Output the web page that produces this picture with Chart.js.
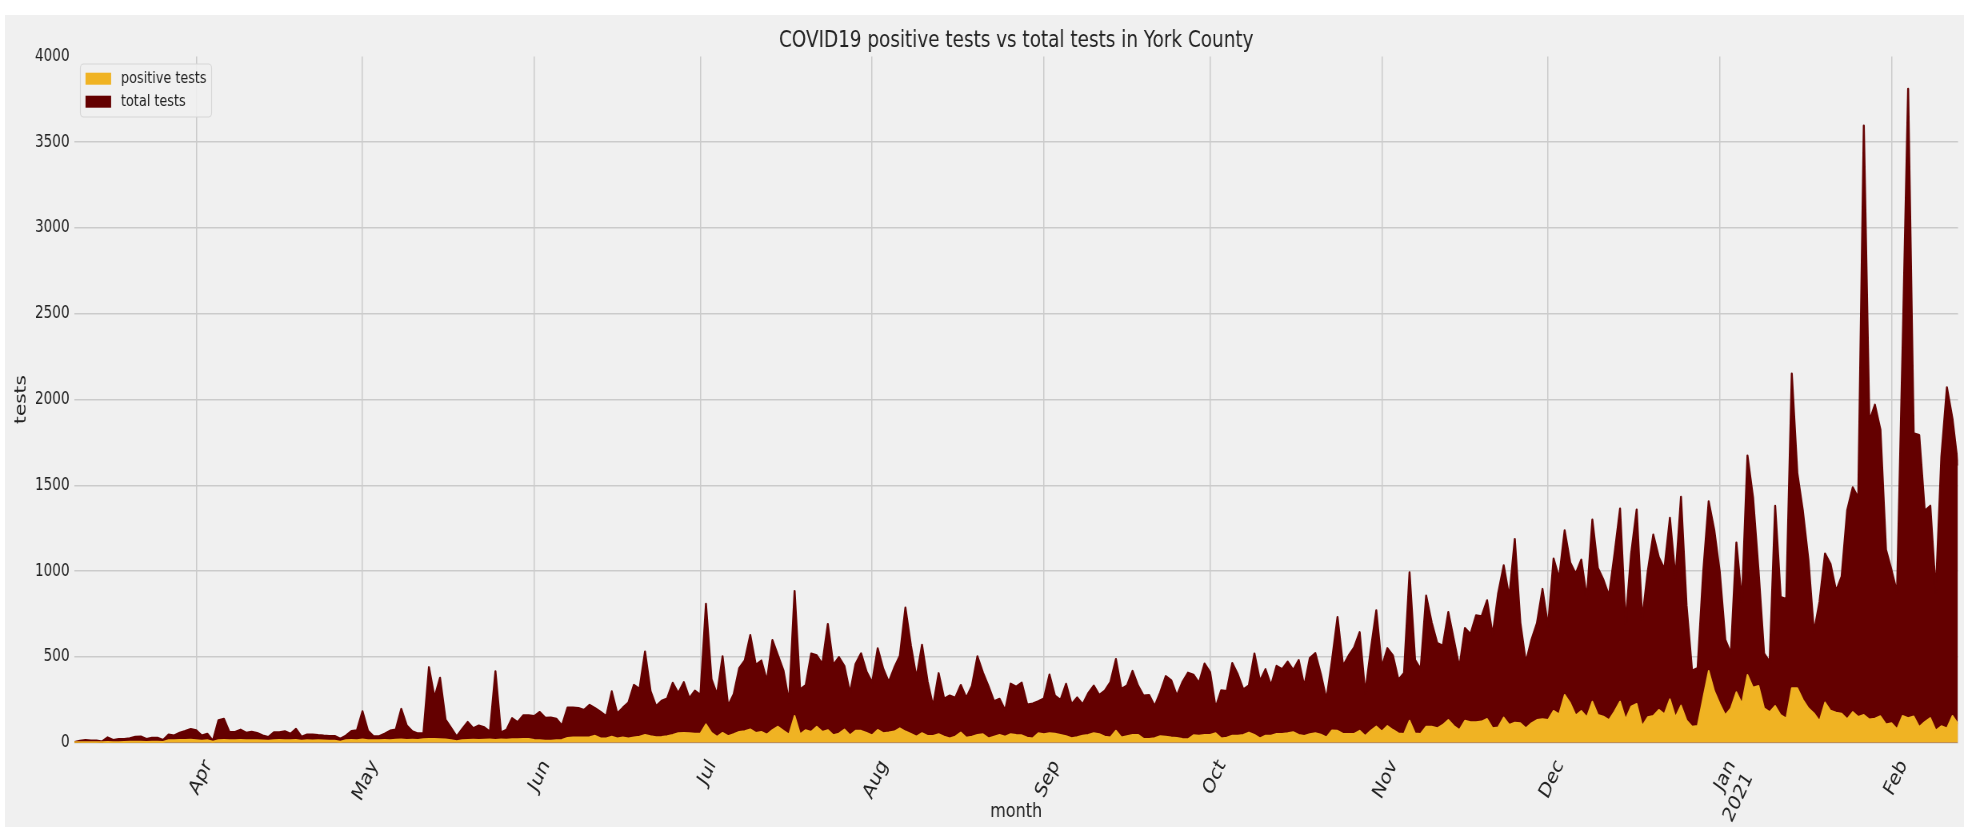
<!DOCTYPE html>
<html lang="en">
<head>
<meta charset="utf-8">
<title>COVID19 positive tests vs total tests in York County</title>
<script src="https://cdn.jsdelivr.net/npm/chart.js@4.4.1/dist/chart.umd.min.js"></script>
<style>
  html, body { margin: 0; padding: 0; background: #ffffff; }
  body { width: 1964px; height: 827px; position: relative; overflow: hidden; }
  #bg { position: absolute; left: 5px; top: 15px; right: 0; bottom: 0; background: #f0f0f0; }
  /* the reference figure is squeezed horizontally, so the canvas is too */
  #chart { position: absolute; left: 0; top: 0; transform: scaleX(0.8); transform-origin: 0 0; }
</style>
</head>
<body>
<div id="bg"></div>
<canvas id="chart" width="2455" height="827"></canvas>
<script>
// ── Dados ─────────────────────────────────────────────────────
// one value per day, starting at START_DATE
const START_DATE = "2020-03-10";

const TOTAL_TESTS = [
  // Mar 10-31
  2, 10, 15, 12, 12, 6, 30, 15, 20, 20, 25, 33, 35, 20, 28, 28, 15, 47, 41, 57, 67, 79,
  // Apr
  71, 41, 51, 10, 130, 138, 61, 61, 75, 57, 63, 55, 41, 32, 59, 59, 65, 51, 79, 34,
  47, 47, 43, 40, 38, 38, 22, 40, 67, 71,
  // May
  182, 69, 36, 36, 51, 69, 75, 196, 99, 65, 53, 55, 439, 263, 377, 134, 85, 36, 79, 120,
  83, 99, 89, 63, 415, 59, 75, 142, 119, 158, 158,
  // Jun
  154, 178, 144, 146, 138, 99, 203, 203, 201, 190, 219, 200, 178, 154, 298, 170, 203, 233, 336, 312,
  530, 300, 213, 243, 257, 348, 288, 352, 259, 302,
  // Jul
  277, 808, 370, 281, 502, 215, 281, 433, 478, 626, 452, 478, 360, 597, 508, 419, 235, 883, 310, 334,
  518, 508, 458, 690, 452, 498, 445, 290, 458, 520, 413,
  // Aug
  350, 549, 430, 353, 437, 506, 786, 565, 378, 570, 358, 212, 404, 255, 274, 261, 335, 261, 329, 502,
  408, 329, 241, 255, 188, 343, 325, 349, 221, 227, 241,
  // Sep
  257, 396, 273, 249, 342, 223, 263, 223, 287, 332, 277, 302, 352, 486, 312, 332, 417, 332, 273, 277,
  213, 292, 387, 362, 273, 352, 407, 395, 348, 460,
  // Oct
  410, 204, 304, 300, 463, 398, 310, 333, 519, 359, 427, 333, 447, 427, 472, 423, 480, 329, 492, 521,
  398, 251, 480, 731, 447, 506, 555, 643, 290, 540, 770,
  // Nov
  440, 550, 508, 366, 405, 992, 482, 428, 856, 700, 580, 564, 760, 599, 438, 667, 632, 741, 735, 829,
  628, 871, 1033, 848, 1186, 700, 467, 599, 696, 895,
  // Dec
  677, 1072, 959, 1237, 1050, 984, 1066, 842, 1299, 1017, 949, 856, 1100, 1363, 696, 1100, 1358, 716, 998, 1212,
  1080, 1011, 1309, 959, 1432, 800, 418, 434, 988, 1406, 1240,
  // Jan 2021
  993, 600, 520, 1166, 824, 1673, 1430, 1000, 520, 470, 1379, 848, 836, 2150, 1570, 1350, 1065, 643, 820, 1101,
  1040, 884, 969, 1354, 1487, 1427, 3596, 1873, 1969, 1824, 1125,
  // Feb 1-13
  1005, 875, 2300, 3810, 1802, 1792, 1350, 1380, 875, 1667, 2070, 1888, 1615,
];

const POSITIVE_TESTS = [
  // Mar 10-31
  2, 3, 3, 2, 3, 2, 4, 3, 3, 4, 5, 5, 6, 4, 5, 5, 4, 15, 14, 16, 16, 17,
  // Apr
  15, 12, 14, 5, 15, 16, 14, 15, 16, 14, 15, 14, 13, 12, 15, 16, 15, 14, 16, 12,
  14, 13, 14, 13, 12, 12, 6, 14, 16, 15,
  // May
  18, 15, 14, 14, 16, 15, 17, 18, 16, 17, 16, 20, 22, 22, 20, 18, 15, 8, 15, 16,
  17, 16, 17, 18, 16, 18, 17, 20, 20, 22, 22,
  // Jun
  16, 14, 12, 12, 14, 16, 28, 30, 30, 30, 32, 40, 25, 24, 35, 25, 30, 25, 30, 35,
  45, 38, 32, 33, 38, 45, 55, 56, 55, 52,
  // Jul
  53, 107, 57, 34, 57, 38, 49, 63, 67, 77, 57, 63, 47, 73, 93, 69, 47, 156, 49, 73,
  63, 93, 63, 73, 43, 53, 77, 43, 69, 69, 57,
  // Aug
  43, 74, 55, 59, 65, 84, 65, 51, 35, 55, 39, 39, 49, 35, 25, 35, 59, 29, 35, 45,
  49, 25, 35, 45, 35, 49, 45, 43, 29, 25, 55,
  // Sep
  50, 55, 52, 45, 38, 26, 32, 40, 45, 55, 50, 35, 30, 70, 30, 38, 45, 45, 22, 22,
  26, 38, 35, 30, 28, 22, 20, 43, 41, 45,
  // Oct
  45, 55, 25, 29, 41, 41, 45, 59, 45, 25, 41, 41, 51, 51, 55, 61, 45, 39, 49, 55,
  47, 31, 71, 69, 51, 51, 51, 69, 39, 69, 94,
  // Nov
  65, 97, 74, 54, 51, 128, 54, 51, 93, 93, 84, 103, 132, 97, 74, 128, 119, 119, 123, 138,
  84, 89, 146, 103, 117, 113, 84, 113, 132, 136,
  // Dec
  132, 185, 165, 278, 230, 158, 185, 148, 239, 161, 152, 132, 181, 239, 136, 210, 226, 97, 148, 156,
  191, 165, 253, 148, 216, 130, 93, 97, 259, 418, 300,
  // Jan 2021
  225, 160, 200, 294, 227, 395, 320, 330, 200, 178, 214, 160, 140, 318, 318, 250, 200, 170, 125, 234,
  186, 175, 169, 137, 178, 150, 161, 135, 140, 154, 106,
  // Feb 1-13
  113, 78, 156, 143, 153, 91, 120, 143, 70, 96, 83, 156, 109,
];

const TICK_DATES = [
  "2020-04-01", "2020-05-01", "2020-06-01", "2020-07-01", "2020-08-01", "2020-09-01",
  "2020-10-01", "2020-11-01", "2020-12-01", "2021-01-01", "2021-02-01",
];
const TICK_LABELS = ["Apr", "May", "Jun", "Jul", "Aug", "Sep", "Oct", "Nov", "Dec", ["Jan", "2021"], "Feb"];
const Y_TICKS = [0, 500, 1000, 1500, 2000, 2500, 3000, 3500, 4000];

// ── Estilo ────────────────────────────────────────────────────
const YELLOW = "#f0b323";
const DARK_RED = "#640000";
const GRID = "#cbcbcb";
const TEXT = "#222222";
const FONT = "'DejaVu Sans', 'Liberation Sans', sans-serif";

Chart.defaults.font.family = FONT;
Chart.defaults.color = TEXT;

function dayIndex(iso) {
  return Math.round((Date.parse(iso) - Date.parse(START_DATE)) / 86400000);
}
const TICK_DAYS = TICK_DATES.map(dayIndex);
const LAST_DAY = TOTAL_TESTS.length - 1;

function asPoints(values) {
  return values.map((v, i) => ({ x: i, y: v }));
}

// legend box drawn inside the plot, top left (like matplotlib's)
const insideLegend = {
  id: "insideLegend",
  afterDatasetsDraw(chart) {
    const { ctx, chartArea } = chart;
    const x0 = chartArea.left + 7.5;
    const y0 = chartArea.top + 7.6;
    const w = 164;
    const h = 53;
    ctx.save();
    ctx.beginPath();
    ctx.roundRect(x0, y0, w, h, 4);
    ctx.fillStyle = "rgba(240,240,240,0.85)";
    ctx.fill();
    ctx.strokeStyle = "#d6d6d6";
    ctx.lineWidth = 1.2;
    ctx.stroke();

    ctx.font = "16px " + FONT;
    ctx.textBaseline = "middle";
    ctx.textAlign = "left";
    const rows = chart.data.datasets.map((ds, i) => ({ label: ds.label, color: ds.backgroundColor, cy: y0 + 14.7 + i * 23 }));
    rows.forEach((r) => {
      ctx.fillStyle = r.color;
      ctx.fillRect(x0 + 6.4, r.cy - 6, 32, 12);
      ctx.fillStyle = TEXT;
      ctx.fillText(r.label, x0 + 50.8, r.cy);
    });
    ctx.restore();
  },
};

// ── Gráfico ───────────────────────────────────────────────────
new Chart(document.getElementById("chart"), {
  type: "line",
  data: {
    datasets: [
      {
        label: "positive tests",
        data: asPoints(POSITIVE_TESTS),
        fill: "origin",
        backgroundColor: YELLOW,
        borderColor: YELLOW,
        borderWidth: 2,
        borderJoinStyle: "round",
        pointRadius: 0,
        tension: 0,
      },
      {
        label: "total tests",
        data: asPoints(TOTAL_TESTS),
        fill: "origin",
        backgroundColor: DARK_RED,
        borderColor: DARK_RED,
        borderWidth: 2.5,
        borderJoinStyle: "round",
        pointRadius: 0,
        tension: 0,
      },
    ],
  },
  options: {
    responsive: false,
    devicePixelRatio: 1,
    animation: false,
    layout: { padding: { left: 0, right: 7.5, top: 0, bottom: 0 } },
    plugins: {
      legend: { display: false },
      tooltip: { enabled: false },
      title: {
        display: true,
        fullSize: false,
        text: "COVID19 positive tests vs total tests in York County",
        color: TEXT,
        font: { size: 23, weight: "normal" },
        padding: { top: 27.7, bottom: 1.1 },
      },
    },
    scales: {
      x: {
        type: "linear",
        min: 0,
        max: LAST_DAY,
        afterBuildTicks: (scale) => {
          scale.ticks = TICK_DAYS.map((v) => ({ value: v }));
        },
        afterFit: (scale) => {
          scale.height = 84.3;
        },
        grid: { color: GRID, lineWidth: 1.5, drawTicks: false },
        border: { display: false },
        ticks: {
          autoSkip: false,
          minRotation: 60,
          maxRotation: 60,
          padding: 13,
          labelOffset: 15,
          color: TEXT,
          font: { size: 21 },
          callback: (v) => TICK_LABELS[TICK_DAYS.indexOf(v)],
        },
        title: {
          display: true,
          text: "month",
          color: TEXT,
          font: { size: 20 },
          padding: { top: 0, bottom: 3 },
        },
      },
      y: {
        min: 0,
        max: 4000,
        afterBuildTicks: (scale) => {
          scale.ticks = Y_TICKS.map((v) => ({ value: v }));
        },
        afterFit: (scale) => {
          scale.width = 93;
        },
        grid: {
          color: (c) => (c.tick && c.tick.value === 4000 ? "rgba(0,0,0,0)" : GRID),
          lineWidth: 1.5,
          drawTicks: false,
        },
        border: { display: false },
        ticks: {
          padding: 6,
          color: TEXT,
          font: { size: 17 },
          callback: (v) => String(v),
        },
        title: {
          display: true,
          text: "tests",
          color: TEXT,
          font: { size: 20 },
          padding: { top: 14.5, bottom: 0 },
        },
      },
    },
  },
  plugins: [insideLegend],
});
</script>
</body>
</html>
